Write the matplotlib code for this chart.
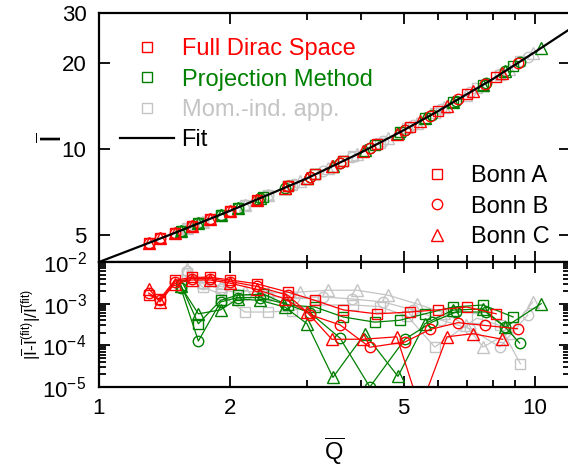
import matplotlib
matplotlib.use("Agg")
import matplotlib.pyplot as plt
from matplotlib.lines import Line2D
from matplotlib.ticker import FixedLocator, NullLocator, LogLocator, NullFormatter

plt.rcParams["font.family"] = ["Liberation Sans", "DejaVu Sans"]
plt.rcParams["mathtext.fontset"] = "custom"
plt.rcParams["mathtext.rm"] = "Liberation Sans"
plt.rcParams["mathtext.it"] = "Liberation Sans:italic"
plt.rcParams["mathtext.bf"] = "Liberation Sans:bold"

# --- data ---
# fit curve
Q_fit = [1.0, 1.25, 1.5, 2.0, 2.5, 3.0, 4.0, 5.0, 6.0, 7.0, 8.0, 10.0, 12.0]
I_fit = [4.02, 4.58, 5.10, 6.08, 7.02, 7.90, 9.75, 11.65, 13.6, 15.62, 17.6, 21.9, 26.3]

# full Dirac space (red)
Q_dirac_A = [1.30, 1.38, 1.49, 1.63, 1.80, 2.00, 2.30, 2.71, 3.13, 3.63, 4.34, 5.17, 5.98, 6.98, 8.15]
I_dirac_A = [4.69, 4.86, 5.08, 5.37, 5.70, 6.08, 6.65, 7.40, 8.15, 9.08, 10.41, 11.99, 13.56, 15.57, 17.92]
r_dirac_A = [1.6e-3, 1.3e-3, 3.6e-3, 4.3e-3, 4.3e-3, 3.7e-3, 3.0e-3, 1.9e-3, 1.2e-3, 7.1e-4,
             5.7e-4, 6.3e-4, 7.1e-4, 8.3e-4, 5.7e-4]

Q_dirac_B = [1.30, 1.38, 1.49, 1.63, 1.80, 2.00, 2.30, 2.71, 3.05, 3.57, 4.18, 5.03, 5.74, 6.66, 7.68, 9.12]
I_dirac_B = [4.69, 4.86, 5.08, 5.37, 5.70, 6.08, 6.65, 7.40, 7.99, 8.97, 10.10, 11.71, 13.10, 14.93, 16.97, 20.01]
r_dirac_B = [1.8e-3, 1.2e-3, 3.3e-3, 4.0e-3, 4.0e-3, 3.4e-3, 2.6e-3, 1.6e-3, 5.4e-4, 3.1e-4,
             9.0e-5, 1.2e-4, 2.4e-4, 3.5e-4, 3.0e-4, 2.5e-4]

Q_dirac_C = [1.30, 1.38, 1.49, 1.63, 1.80, 2.00, 2.30, 2.67, 3.00, 3.42, 4.03, 4.82, 5.45, 6.28, 7.20, 8.42]
I_dirac_C = [4.69, 4.86, 5.08, 5.37, 5.70, 6.08, 6.65, 7.33, 7.90, 8.69, 9.81, 11.31, 12.53, 14.17, 16.01, 18.50]
r_dirac_C = [2.3e-3, 1.1e-3, 3.0e-3, 3.7e-3, 3.7e-3, 3.1e-3, 2.2e-3, 1.3e-3, 6.3e-4, 1.4e-4,
             1.4e-4, 1.6e-4, 3.0e-6, 1.6e-4, 1.9e-4, 1.4e-4]

# projection method (green)
Q_proj_A = [1.54, 1.69, 1.90, 2.08, 2.38, 2.71, 3.13, 3.63, 4.29, 4.90, 5.59, 6.48, 7.60, 8.91]
I_proj_A = [5.18, 5.49, 5.89, 6.24, 6.80, 7.40, 8.15, 9.08, 10.31, 11.46, 12.81, 14.57, 16.81, 19.56]
r_proj_A = [2.8e-3, 3.3e-4, 1.2e-3, 1.6e-3, 1.7e-3, 9.3e-4, 8.3e-4, 4.8e-4, 3.6e-4, 4.0e-4,
            5.7e-4, 8.3e-4, 9.3e-4, 4.8e-4]

Q_proj_B = [1.54, 1.69, 1.90, 2.08, 2.34, 2.67, 3.05, 3.57, 4.18, 5.03, 5.80, 6.58, 7.71, 8.55, 9.22]
I_proj_B = [5.18, 5.49, 5.89, 6.24, 6.73, 7.33, 7.99, 8.97, 10.10, 11.71, 13.21, 14.77, 17.03, 18.78, 20.23]
r_proj_B = [2.4e-3, 1.27e-4, 1.1e-3, 1.4e-3, 1.4e-3, 1.0e-3, 6.0e-4, 1.5e-4, 1.0e-5, 1.4e-4,
            3.6e-4, 6.3e-4, 6.3e-4, 2.7e-4, 1.14e-4]

Q_proj_C = [1.54, 1.69, 1.90, 2.08, 2.34, 2.67, 3.00, 3.44, 4.07, 4.85, 5.59, 6.48, 7.60, 8.55, 10.33]
I_proj_C = [5.18, 5.49, 5.89, 6.24, 6.73, 7.33, 7.90, 8.73, 9.89, 11.37, 12.81, 14.57, 16.81, 18.78, 22.62]
r_proj_C = [2.6e-3, 5.7e-4, 7.1e-4, 1.3e-3, 1.2e-3, 8.3e-4, 3.3e-4, 1.7e-5, 1.9e-4, 1.8e-5,
            3.3e-4, 7.0e-4, 7.5e-4, 2.75e-4, 1.0e-3]

# momentum-independent approximation (grey)
Q_mom_A = [1.59, 1.73, 1.90, 2.16, 2.44, 2.77, 3.13, 3.83, 4.40, 5.10, 5.89, 7.36, 8.30, 9.26]
I_mom_A = [5.28, 5.56, 5.89, 6.39, 6.91, 7.50, 8.15, 9.44, 10.52, 11.85, 13.39, 16.33, 18.25, 20.31]
r_mom_A = [5.5e-3, 2.5e-3, 1.7e-3, 6.3e-4, 6.3e-4, 6.8e-4, 9.3e-4, 9.3e-4, 8.5e-4, 5.0e-4,
           9.1e-5, 4.5e-4, 3.0e-4, 3.6e-5]

Q_mom_B = [1.59, 1.73, 1.90, 2.16, 2.44, 2.80, 3.27, 3.80, 4.48, 5.25, 6.10, 7.10, 8.31, 9.63]
I_mom_B = [5.28, 5.56, 5.89, 6.39, 6.91, 7.56, 8.41, 9.39, 10.67, 12.14, 13.80, 15.81, 18.27, 21.11]
r_mom_B = [6.0e-3, 3.0e-3, 2.3e-3, 1.6e-3, 1.5e-3, 1.4e-3, 1.45e-3, 1.3e-3, 1.1e-3, 7.1e-4,
           4.0e-4, 2.5e-4, 9.1e-5, 5.4e-4]

Q_mom_C = [1.59, 1.73, 1.90, 2.16, 2.44, 2.89, 3.35, 3.91, 4.60, 5.37, 6.20, 6.95, 7.60, 8.70, 9.89]
I_mom_C = [5.28, 5.56, 5.89, 6.39, 6.91, 7.71, 8.56, 9.59, 10.90, 12.38, 14.01, 15.52, 16.81, 19.11, 21.67]
r_mom_C = [6.8e-3, 3.3e-3, 2.6e-3, 2.0e-3, 1.8e-3, 1.9e-3, 2.1e-3, 2.1e-3, 1.6e-3, 9.8e-4,
           6.0e-4, 3.0e-4, 9.1e-5, 2.0e-4, 1.1e-3]

method_labels = ["Full Dirac Space", "Projection Method", "Mom.-ind. app."]
potential_labels = ["Bonn A", "Bonn B", "Bonn C"]

RED, GREEN, GREY = "#ff0000", "#008000", "#c4c4c4"
markers = ["s", "o", "^"]

# drawing order: grey below, then green, then red
series = [
    (GREY, [(Q_mom_A, I_mom_A, r_mom_A), (Q_mom_B, I_mom_B, r_mom_B), (Q_mom_C, I_mom_C, r_mom_C)]),
    (GREEN, [(Q_proj_A, I_proj_A, r_proj_A), (Q_proj_B, I_proj_B, r_proj_B), (Q_proj_C, I_proj_C, r_proj_C)]),
    (RED, [(Q_dirac_A, I_dirac_A, r_dirac_A), (Q_dirac_B, I_dirac_B, r_dirac_B), (Q_dirac_C, I_dirac_C, r_dirac_C)]),
]

W, H = 568, 469
fig = plt.figure(figsize=(W / 100, H / 100), dpi=100)
x0, x1 = 99, 569.5
ax1 = fig.add_axes([x0 / W, (H - 262) / H, (x1 - x0) / W, 249 / H])
ax2 = fig.add_axes([x0 / W, (H - 387) / H, (x1 - x0) / W, 125 / H])

for color, trio in series:
    for mk, (q, i, r) in zip(markers, trio):
        ms = 8.5 if mk == "^" else 7.5
        ax1.plot(q, i, ls="none", marker=mk, ms=ms, mfc="none", mec=color, mew=1.0)
        ax2.plot(q, r, ls="-", lw=0.9, color=color, marker=mk, ms=ms, mfc="none", mec=color, mew=1.0)

ax1.plot(Q_fit, I_fit, color="black", lw=1.6, zorder=5)

for ax in (ax1, ax2):
    ax.set_xscale("log")
    ax.set_xlim(1, 12)
    ax.xaxis.set_major_locator(FixedLocator([1, 2, 5, 10]))
    ax.xaxis.set_minor_locator(FixedLocator([3, 4, 6, 7, 8, 9]))
    ax.xaxis.set_minor_formatter(NullFormatter())
    ax.tick_params(which="both", direction="in", top=True, right=True, width=1.3, labelsize=16)
    ax.tick_params(which="major", length=8)
    ax.tick_params(which="minor", length=5)
    ax.tick_params(axis="x", pad=8)
    ax.tick_params(axis="y", pad=9)
    for sp in ax.spines.values():
        sp.set_linewidth(1.6)

ax1.set_yscale("log")
ax1.set_ylim(4.02, 30)
ax1.yaxis.set_major_locator(FixedLocator([5, 10, 20, 30]))
ax1.yaxis.set_minor_locator(NullLocator())
ax1.set_yticklabels(["5", "10", "20", "30"])
ax1.tick_params(axis="x", labelbottom=False)
ax1.set_ylabel(r"$\overline{\mathrm{I}}$", fontsize=21)
ax1.yaxis.set_label_coords(-0.065, 0.5)

ax2.set_yscale("log")
ax2.set_ylim(1e-5, 1e-2)
ax2.yaxis.set_major_locator(LogLocator(base=10, numticks=10))
ax2.yaxis.set_minor_locator(LogLocator(base=10, subs=range(2, 10), numticks=10))
ax2.yaxis.set_minor_formatter(NullFormatter())
ax2.set_xticklabels(["1", "2", "5", "10"])
ax2.set_ylabel(r"$|\overline{\mathrm{I}}$-$\overline{\mathrm{I}}^{\mathrm{(fit)}}|/\overline{\mathrm{I}}^{\mathrm{(fit)}}$",
               fontsize=12.5)
ax2.yaxis.set_label_coords(-0.118, 0.5)
ax2.set_xlabel(r"$\overline{\mathrm{Q}}$", fontsize=17)
ax2.xaxis.set_label_coords(0.5, -0.39)

# legend for the methods
h1 = [Line2D([], [], ls="none", marker="s", ms=7.5, mfc="none", mec=c, mew=1.0) for c in (RED, GREEN, GREY)]
h1.append(Line2D([], [], color="black", lw=1.6))
leg1 = ax1.legend(h1, method_labels + ["Fit"], loc="upper left", bbox_to_anchor=(0.045, 0.898),
                  frameon=False, fontsize=17, handlelength=2.3, handletextpad=0.3,
                  labelspacing=0.35, borderpad=0, borderaxespad=0)
for txt, c in zip(leg1.get_texts(), (RED, GREEN, GREY, "black")):
    txt.set_color(c)
ax1.add_artist(leg1)

# legend for the potentials
h2 = [Line2D([], [], ls="none", marker=m, ms=(8.5 if m == "^" else 7.5), mfc="none", mec=RED, mew=1.0)
      for m in markers]
ax1.legend(h2, potential_labels, loc="upper left", bbox_to_anchor=(0.66, 0.388),
           frameon=False, fontsize=17, handlelength=2.3, handletextpad=0.3,
           labelspacing=0.35, borderpad=0, borderaxespad=0)

fig.savefig("out.png", dpi=100)
